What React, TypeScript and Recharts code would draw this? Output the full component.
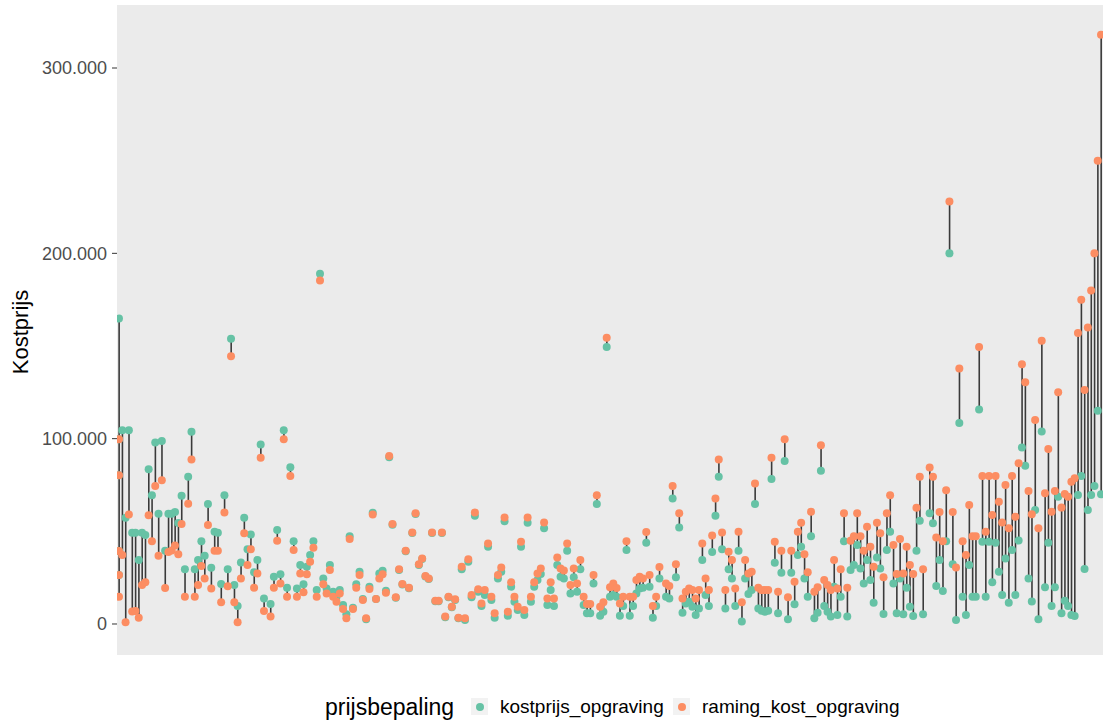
import React from "react";
import { ComposedChart, Bar, Scatter, XAxis, YAxis, CartesianGrid } from "recharts";

if (typeof document !== "undefined") {
  document.body.style.margin = "0";
}

// category index (position on the discrete x axis) of every record
const posities: number[] = [
  0, 0, 0, 0, 0, 1, 2, 3, 4, 5, 6, 7, 8, 9, 10, 11, 12, 13, 14, 15, 16, 17, 18, 19, 20, 21, 22, 23, 24, 25, 26, 27, 28, 29, 30, 31, 32, 33, 34, 35, 36,
  37, 38, 39, 40, 41, 42, 43, 44, 46, 47, 48, 49, 50, 51, 52, 53, 54, 55, 56, 57, 58, 59, 60, 61, 62, 63, 64, 65, 66, 67, 68, 69, 70, 71, 72, 73, 74,
  75, 76, 77, 78, 79, 80, 81, 82, 83, 84, 85, 86, 87, 88, 89, 90, 91, 92, 93, 94, 95, 96, 97, 98, 99, 100, 101, 102, 103, 104, 105, 106, 107, 108, 109, 110, 111, 112,
  113, 114, 115, 116, 117, 118, 119, 120, 121, 122, 123, 124, 125, 126, 127, 128, 129, 130, 131, 132, 133, 134, 135, 136, 137, 138, 139, 140, 141, 142, 143, 144, 145, 146, 147, 148, 149,
  150, 151, 152, 153, 154, 155, 156, 157, 158, 159, 160, 161, 162, 163, 164, 166, 167, 168, 169, 170, 171, 172, 173, 174, 175, 176, 177, 178, 179, 180, 181, 182, 183, 184, 185, 186, 187, 188,
  189, 190, 191, 192, 193, 194, 195, 196, 197, 198, 199, 200, 201, 202, 203, 204, 205, 206, 207, 208, 209, 210, 211, 212, 213, 214, 215, 216, 217, 218, 219, 220, 221, 222, 223, 224, 225, 226,
  227, 228, 229, 230, 231, 232, 233, 234, 235, 236, 237, 238, 239, 240, 241, 242, 243, 244, 246, 247, 248, 249, 250, 251, 252, 253, 254, 255, 256, 257, 258, 259, 260, 261, 262,
  263, 264, 265, 266, 267, 268, 269, 270, 271, 272, 273, 274, 275, 276, 277, 278, 279, 280, 281, 282, 283, 284, 285, 286, 287, 288, 289, 290, 291, 292, 293, 294, 295, 296, 297, 298,
];

// kostprijs_opgraving, in thousands of euro
const kostprijs: number[] = [
  164.8, 99.7, 80.3, 39.4, 26.4, 104.6, 57.3, 104.6, 49.2, 49.2, 34.5, 49.2, 48.0, 83.5, 69.5, 97.9, 59.5, 98.7, 39.5, 59.5, 59.5, 60.4, 54.5, 69.2, 29.6, 79.4, 103.7, 29.6, 34.5, 44.7, 36.8, 64.7, 30.4, 49.8, 49.2, 21.6, 69.5, 29.6, 153.9, 21.0, 9.7,
  33.2, 57.3, 40.3, 48.3, 27.9, 34.5, 96.9, 13.8, 10.8, 25.5, 50.7, 26.8, 104.6, 19.6, 84.6, 44.7, 19.2, 31.8, 21.4, 30.9, 37.2, 44.7, 18.3, 189.0, 24.6, 19.2, 31.8, 17.4, 14.7, 18.3, 10.2, 5.2, 47.4, 8.8, 21.4, 28.2, 13.5,
  2.5, 20.1, 60.0, 13.5, 27.3, 28.7, 18.0, 90.0, 53.6, 14.1, 29.2, 21.3, 39.2, 19.3, 49.1, 59.4, 31.9, 35.1, 25.6, 24.3, 49.1, 12.3, 12.3, 49.1, 3.7, 14.4, 9.0, 13.0, 3.1, 29.5, 2.2, 33.6, 14.4, 58.4, 17.4, 9.7, 15.6, 41.7,
  12.9, 3.4, 24.6, 28.2, 55.5, 4.5, 20.1, 12.0, 7.5, 41.7, 4.9, 54.6, 12.0, 20.1, 23.7, 27.0, 51.6, 10.2, 18.3, 9.7, 31.8, 25.5, 24.6, 39.5, 16.5, 25.2, 17.4, 29.6, 10.2, 5.8, 5.8, 21.9, 64.7, 4.5, 6.6, 149.5, 14.7,
  15.6, 14.7, 4.5, 9.7, 39.9, 4.5, 9.7, 16.5, 19.2, 19.6, 43.8, 20.1, 3.4, 9.7, 24.6, 14.7, 13.8, 67.7, 25.2, 52.1, 6.1, 11.1, 12.0, 9.3, 4.9, 8.4, 34.5, 15.6, 9.7, 38.8, 58.4, 79.4, 40.3, 8.4, 29.5, 24.6, 9.7, 39.5,
  1.3, 24.6, 16.2, 18.3, 64.7, 8.4, 7.2, 6.6, 7.2, 78.2, 33.1, 5.8, 27.7, 87.9, 2.5, 27.7, 10.6, 37.2, 41.7, 24.6, 14.7, 47.4, 3.1, 6.1, 82.7, 9.7, 6.6, 4.0, 20.1, 4.9, 14.7, 44.7, 4.0, 29.1, 31.8, 42.6, 30.0, 21.9,
  34.5, 23.7, 11.5, 35.9, 30.0, 5.4, 39.9, 49.8, 21.9, 5.8, 24.6, 5.2, 19.6, 9.3, 4.3, 39.5, 55.7, 5.2, 59.7, 54.3, 20.5, 34.5, 17.8, 44.7, 200.0, 32.2, 2.2, 108.5, 14.7, 4.9, 31.8, 14.7, 14.7, 115.7, 44.4,
  14.7, 44.4, 22.5, 43.9, 28.2, 15.6, 35.4, 11.5, 39.9, 15.6, 45.0, 95.3, 85.4, 24.6, 12.1, 61.5, 2.5, 103.8, 19.8, 43.9, 9.7, 19.8, 68.7, 5.8, 12.6, 9.7, 4.9, 4.3, 69.6, 79.9, 29.7, 61.5, 69.6, 74.5, 115.1, 70.0,
];

// raming_kost_opgraving, in thousands of euro
const raming: number[] = [
  99.7, 14.7, 80.3, 39.4, 26.4, 37.2, 0.9, 59.1, 6.8, 7.0, 3.4, 21.0, 22.5, 58.7, 44.7, 74.5, 36.8, 77.6, 19.4, 38.8, 39.7, 42.4, 37.7, 53.9, 14.7, 64.9, 88.7, 14.7, 21.0, 31.3, 24.6, 53.4, 19.2, 39.5, 39.5, 11.7, 60.2, 20.3, 144.5, 11.7, 0.9,
  24.6, 48.9, 31.8, 40.3, 19.6, 27.3, 89.7, 7.0, 4.0, 19.6, 44.9, 21.9, 99.7, 14.7, 79.8, 39.9, 14.7, 27.3, 17.1, 26.8, 33.6, 41.2, 14.7, 185.4, 21.4, 16.5, 29.1, 14.7, 12.0, 16.5, 8.1, 3.1, 45.8, 8.1, 19.6, 26.4, 12.9,
  3.1, 18.9, 59.1, 13.5, 24.6, 26.8, 16.9, 90.6, 53.9, 14.4, 29.5, 21.6, 39.5, 19.6, 49.4, 59.7, 32.2, 35.4, 25.9, 24.6, 49.4, 12.6, 12.6, 49.4, 4.0, 14.7, 9.3, 13.3, 3.4, 30.9, 3.1, 34.9, 15.6, 60.2, 18.7, 11.1, 18.3, 43.5,
  14.7, 5.8, 26.4, 30.5, 57.5, 6.6, 22.5, 14.7, 9.3, 44.4, 7.5, 57.5, 14.7, 22.5, 27.3, 30.0, 54.8, 13.8, 22.5, 13.8, 35.9, 30.0, 28.8, 43.5, 21.0, 30.0, 21.9, 34.5, 14.7, 10.8, 10.8, 26.4, 69.5, 9.3, 11.7, 154.5, 19.8,
  21.9, 19.4, 11.0, 14.7, 44.7, 14.7, 14.7, 23.7, 25.5, 24.6, 49.6, 26.4, 9.7, 14.7, 30.7, 21.9, 20.5, 74.5, 32.3, 59.7, 13.8, 17.4, 19.2, 18.3, 13.8, 18.3, 43.5, 24.6, 18.3, 47.8, 67.7, 88.8, 49.4, 18.3, 39.0, 34.5, 19.2, 49.8,
  11.7, 34.5, 27.3, 28.2, 75.8, 19.6, 18.3, 18.3, 18.3, 89.7, 44.4, 17.4, 39.5, 99.7, 14.4, 39.5, 22.8, 49.8, 54.6, 37.7, 27.9, 60.6, 17.4, 19.8, 96.5, 23.7, 21.0, 18.3, 34.5, 19.2, 29.5, 59.7, 19.6, 44.9, 47.4, 59.7, 47.4, 39.5,
  52.5, 41.7, 30.9, 54.6, 48.9, 25.2, 59.7, 69.5, 42.6, 27.0, 45.8, 27.3, 41.7, 31.8, 27.0, 62.7, 79.4, 29.5, 84.5, 79.4, 46.7, 60.4, 44.7, 72.2, 228.0, 60.4, 30.5, 137.8, 44.7, 37.2, 64.2, 47.4, 47.4, 149.5, 79.9,
  49.8, 79.9, 58.8, 79.9, 66.0, 54.7, 75.0, 51.6, 79.9, 57.9, 86.7, 140.1, 130.4, 71.8, 59.2, 110.1, 51.6, 152.9, 70.5, 94.4, 60.6, 71.8, 125.0, 62.8, 70.1, 68.7, 76.8, 78.6, 157.0, 175.0, 126.3, 160.0, 180.0, 200.0, 250.0, 318.0,
];

const yTicks = [0, 100, 200, 300];
const seriesNames = ["kostprijs_opgraving", "raming_kost_opgraving"];
const seriesColors = ["#66C2A5", "#FC8D62"];

const data = posities.map((p, i) => ({
  pos: p,
  kost: kostprijs[i],
  raming: raming[i],
  stem: [Math.min(kostprijs[i], raming[i]), Math.max(kostprijs[i], raming[i])],
}));

const FONT = "'Liberation Sans', Arial, Helvetica, sans-serif";

const fmt = (v: number) => (v === 0 ? "0" : `${v}.000`);

const GreenDot = (p: any) => <circle cx={p.cx} cy={p.cy} r={4} fill={seriesColors[0]} />;
const OrangeDot = (p: any) => <circle cx={p.cx} cy={p.cy} r={4} fill={seriesColors[1]} />;

const YLabel = (props: any) => {
  const vb = props.viewBox || { x: 0, y: 5, width: 117, height: 650 };
  const cx = vb.x + 20;
  const cy = vb.y + vb.height / 2 + 2;
  return (
    <text
      x={cx}
      y={cy}
      transform={`rotate(-90, ${cx}, ${cy})`}
      textAnchor="middle"
      dominantBaseline="central"
      fontFamily={FONT}
      fontSize={22}
      fill="#000"
    >
      Kostprijs
    </text>
  );
};

export default function App() {
  return (
    <div style={{ position: "relative", width: 1103, height: 722, background: "#fff", overflow: "hidden" }}>
      <ComposedChart width={1103} height={722} data={data} margin={{ top: 5, right: 0, bottom: 67, left: 0 }}>
        <CartesianGrid fill="#EBEBEB" stroke="none" horizontal={false} vertical={false} />
        <XAxis type="number" dataKey="pos" domain={[-0.6, 298.6]} allowDataOverflow hide />
        <YAxis
          type="number"
          width={117}
          domain={[-16.73, 334]}
          allowDataOverflow
          ticks={yTicks}
          tickFormatter={fmt}
          axisLine={false}
          tickSize={5}
          tickMargin={5}
          tickLine={{ stroke: "#333333", strokeWidth: 1 }}
          tick={{ fill: "#4D4D4D", fontSize: 18, fontFamily: FONT }}
          label={<YLabel />}
        />
        <Bar dataKey="stem" fill="#3A3A3A" barSize={1.6} isAnimationActive={false} />
        <Scatter dataKey="kost" shape={GreenDot} isAnimationActive={false} />
        <Scatter dataKey="raming" shape={OrangeDot} isAnimationActive={false} />
      </ComposedChart>
      <div style={{ position: "absolute", left: 0, top: 692, width: 1103, height: 30, fontFamily: FONT }}>
        <span style={{ position: "absolute", left: 325, top: 0, fontSize: 23, lineHeight: "30px", color: "#000" }}>
          prijsbepaling
        </span>
        {seriesNames.map((name, i) => {
          const keyLeft = i === 0 ? 471 : 673;
          return (
            <React.Fragment key={name}>
              <div
                style={{
                  position: "absolute",
                  left: keyLeft,
                  top: 6,
                  width: 17,
                  height: 17,
                  background: "#F2F2F2",
                }}
              >
                <div
                  style={{
                    position: "absolute",
                    left: 4.5,
                    top: 4.5,
                    width: 8,
                    height: 8,
                    borderRadius: "50%",
                    background: seriesColors[i],
                  }}
                />
              </div>
              <span
                style={{
                  position: "absolute",
                  left: keyLeft + 29,
                  top: 0,
                  fontSize: 19,
                  lineHeight: "30px",
                  color: "#000",
                }}
              >
                {name}
              </span>
            </React.Fragment>
          );
        })}
      </div>
    </div>
  );
}
